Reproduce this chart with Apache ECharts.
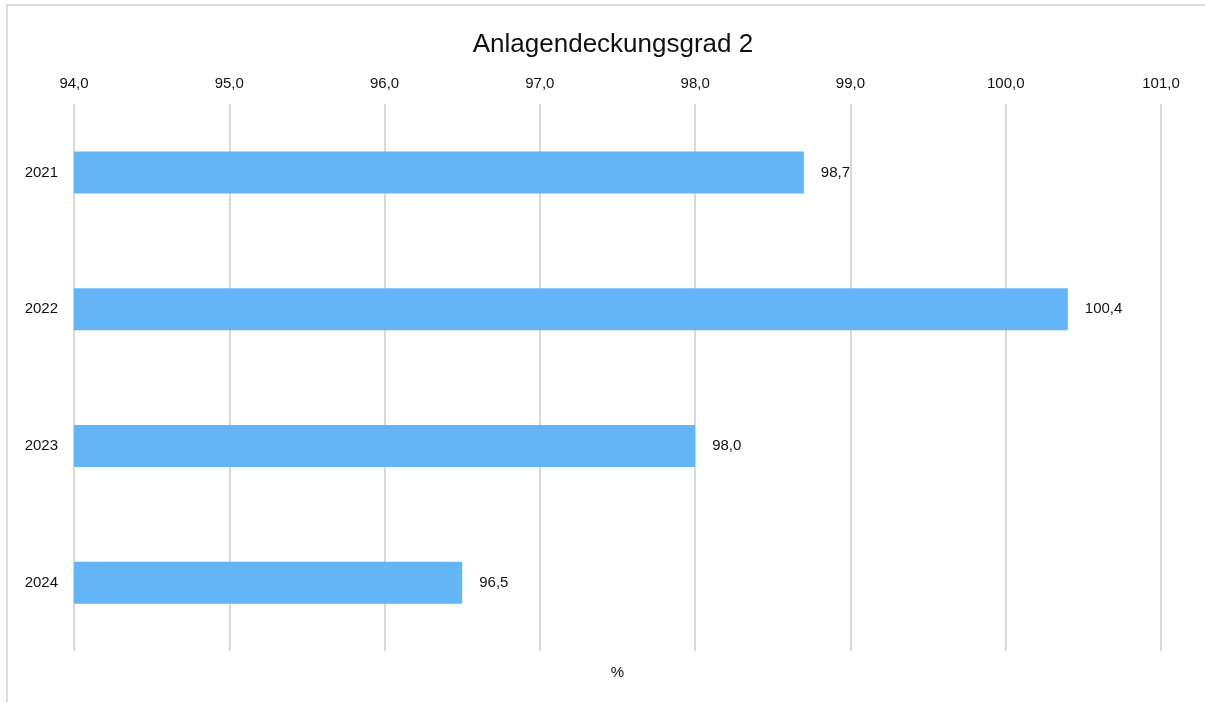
<!DOCTYPE html>
<html>
<head>
<meta charset="utf-8">
<script src="https://cdn.jsdelivr.net/npm/echarts@6/dist/echarts.min.js"></script>
<style>
html,body{margin:0;padding:0;background:#fff;}
#frame{position:absolute;left:6px;top:4px;width:1199px;height:698px;border-top:2px solid #dcdcdc;border-left:2px solid #dcdcdc;box-sizing:border-box;}
#main{position:absolute;left:0;top:0;width:1205px;height:702px;}
</style>
</head>
<body>
<div id="frame"></div>
<div id="main"></div>
<script>
const title = 'Anlagendeckungsgrad 2';
const categories = ['2021', '2022', '2023', '2024'];
const values = [98.7, 100.4, 98.0, 96.5];
const axisMin = 94;
const axisMax = 101;
const axisStep = 1;
const unit = '%';

const FONT = 'Liberation Sans, Arial, sans-serif';
const fmt = v => Number(v).toFixed(1).replace('.', ',');
const chart = echarts.init(document.getElementById('main'), null, {renderer: 'canvas'});
chart.setOption({
  animation: false,
  backgroundColor: 'transparent',
  title: {
    text: title, left: 608, textAlign: 'center', top: 27,
    textStyle: {fontFamily: FONT, fontSize: 26, fontWeight: 'normal', color: '#111'}
  },
  grid: {left: 74, right: 44, top: 104, bottom: 51, containLabel: false},
  xAxis: [{
    type: 'value', position: 'top', min: axisMin, max: axisMax, interval: axisStep,
    axisLine: {show: false}, axisTick: {show: false},
    axisLabel: {formatter: fmt, color: '#111', fontSize: 15, fontFamily: FONT, margin: 13},
    splitLine: {show: true, lineStyle: {color: '#d9d9d9', width: 2}}
  }, {
    type: 'value', position: 'bottom', min: axisMin, max: axisMax,
    axisLine: {show: false}, axisTick: {show: false}, axisLabel: {show: false}, splitLine: {show: false},
    name: unit, nameLocation: 'middle', nameGap: 14,
    nameTextStyle: {color: '#111', fontSize: 15, fontFamily: FONT}
  }],
  yAxis: {
    type: 'category', data: categories, inverse: true,
    axisLine: {show: false}, axisTick: {show: false},
    axisLabel: {color: '#111', fontSize: 15, fontFamily: FONT, margin: 16}
  },
  series: [{
    type: 'bar', data: values, barWidth: 42, xAxisIndex: 0,
    itemStyle: {color: '#64b5f6'},
    label: {show: true, position: 'right', distance: 17, formatter: p => fmt(p.value),
      color: '#111', fontSize: 15, fontFamily: FONT}
  }]
});
</script>
</body>
</html>
